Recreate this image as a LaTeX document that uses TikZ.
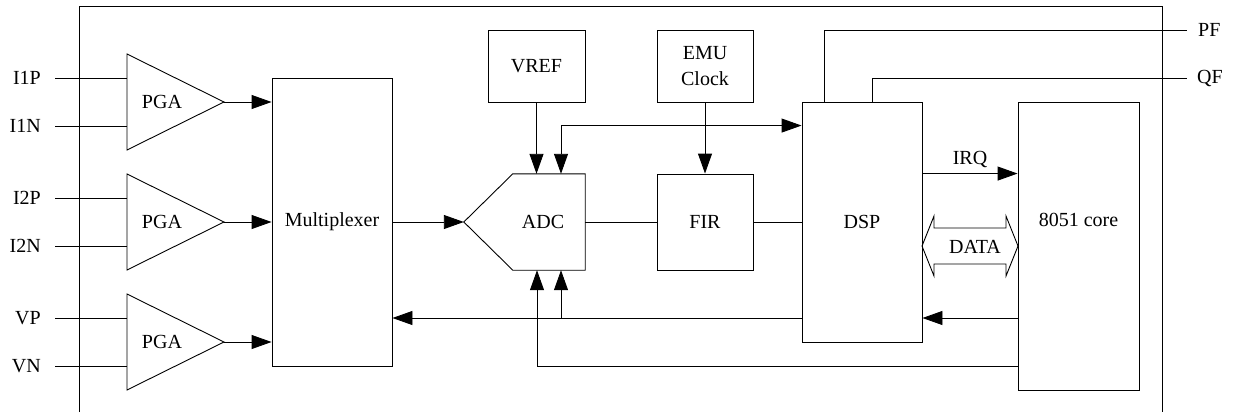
\documentclass[tikz,border=0pt]{standalone}
\usepackage{fontspec}
\setmainfont{Liberation Serif}
\usetikzlibrary{arrows.meta,calc}

\begin{document}
\begin{tikzpicture}[
  x=1pt, y=-1pt,
  every node/.style={font=\fontsize{20}{26}\selectfont},
  blk/.style  ={draw, line width=0.9pt, inner sep=0pt},
  wire/.style ={line width=0.9pt},
  sflow/.style={-{Triangle[length=20pt, width=14pt]}, line width=0.9pt},
  bflow/.style={{Triangle[length=20pt, width=14pt]}-{Triangle[length=20pt, width=14pt]},
                line width=0.9pt},
]
\useasboundingbox (0,0) rectangle (1233,412);

% chip outline, open at the bottom
\draw[wire] (79,412) -- (79,6) -- (1162,6) -- (1162,412);

% ============================ blocks ========================================
\node[blk, minimum width=120pt, minimum height=288pt] (mux)  at (332,222)    {Multiplexer};
\node[blk, minimum width=97pt,  minimum height=72pt]  (vref) at (536.5,66)   {VREF};
\node[blk, minimum width=96pt,  minimum height=72pt, align=center]
                                                      (emu)  at (705,66)     {EMU\\Clock};
\node[blk, minimum width=96pt,  minimum height=96pt]  (fir)  at (705,222)    {FIR};
\node[blk, minimum width=120pt, minimum height=240pt] (dsp)  at (862,222)    {DSP};
\node[blk, minimum width=121pt, minimum height=288pt] (core) at (1078.5,246) {};
\node (corename) at ([yshift=26pt]core.center) {8051 core};

% ADC: box with a pointed input side
\node[minimum width=72pt, minimum height=96pt, inner sep=0pt] (adc) at (549,222) {};
\node (adcname) at ([xshift=-6pt]adc.center) {ADC};
\draw[wire] (adc.north west) -- (adc.north east) -- (adc.south east) -- (adc.south west)
     -- ([xshift=-49pt]adc.west) coordinate (adcin) -- cycle;
\coordinate (adcb1) at ([xshift=-12pt]adc.south);
\coordinate (adcb2) at ([xshift=12pt]adc.south);

% ============================ input amplifiers ==============================
\foreach \k/\y in {1/54, 2/174, 3/294} {
  \draw[wire] (127,\y) -- (224,\y+48) coordinate (pga\k o) -- (127,\y+96) -- cycle;
  \node (pga\k) at (162,\y+48) {PGA};
  \coordinate (pga\k p) at (127,\y+24);
  \coordinate (pga\k n) at (127,\y+72);
  \draw[sflow] (pga\k o) -- (pga\k o -| mux.west);
}

\foreach \nm/\txt/\y/\to in {i1p/I1P/78/pga1p, i1n/I1N/126/pga1n, i2p/I2P/198/pga2p,
                              i2n/I2N/246/pga2n, vp/VP/318/pga3p, vn/VN/366/pga3n} {
  \node[anchor=east, inner xsep=14pt] (\nm) at (55,\y) {\txt};
  \draw[wire] (\nm.east) -- (\to);
}

% ============================ signal path ===================================
\draw[sflow] (mux.east) -- (adcin);
\draw[sflow] (vref.south) -- (vref.south |- adc.north);
\draw[bflow] ([xshift=12pt]adc.north) |- ([yshift=-24pt]dsp.north west);
\draw[sflow] (emu.south) -- (fir.north);
\draw[wire] (adc.east) -- (fir.west);
\draw[wire] (fir.east) -- (dsp.west);

% PF / QF pulse outputs
\node[anchor=west, inner xsep=11pt] (pf) at (1187,30) {PF};
\node[anchor=west, inner xsep=10pt] (qf) at (1187,78) {QF};
\draw[wire] ([xshift=23pt]dsp.north west) |- (pf.west);
\draw[wire] ([xshift=71pt]dsp.north west) |- (qf.west);

% DSP <-> 8051
\draw[sflow] ([yshift=-72pt]dsp.north east) -- ([yshift=-72pt]core.north west)
     node[midway, above, inner sep=5pt] (irq) {IRQ};
\draw[wire] (922,246) -- (934,216) -- (934,228) -- (1006,228) -- (1006,216) -- (1018,246)
     -- (1006,276) -- (1006,264) -- (934,264) -- (934,276) -- cycle;
\node (data) at (975,247) {DATA};

% return buses
\coordinate (retb) at (0,318);
\coordinate (reta) at (0,366);
\draw[sflow] (core.west |- retb) -- (dsp.east |- retb);
\draw[sflow] (dsp.west |- retb) -- (mux.east |- retb);
\draw[sflow] (adcb2 |- retb) -- (adcb2);
\draw[sflow] (core.west |- reta) -| (adcb1);

\end{tikzpicture}
\end{document}
